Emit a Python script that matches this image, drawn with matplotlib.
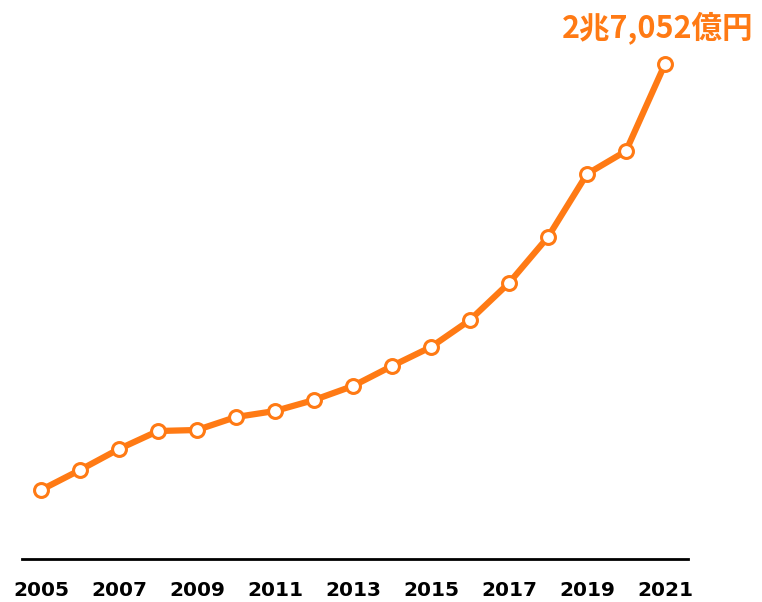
import matplotlib
matplotlib.use("Agg")
import matplotlib.pyplot as plt

years = [2005, 2006, 2007, 2008, 2009, 2010, 2011, 2012, 2013,
         2014, 2015, 2016, 2017, 2018, 2019, 2020, 2021]
# 億円 (last point labelled)
values = [3771, 4864, 6012, 6995, 7050, 7760, 8088, 8689, 9455,
          10548, 11586, 13061, 15084, 17597, 21040, 22297, 27052]
tick_years = [2005, 2007, 2009, 2011, 2013, 2015, 2017, 2019, 2021]
label_text = "2兆7,052億円"

orange = "#ff7a14"
W, H = 762, 602

fig = plt.figure(figsize=(W / 100, H / 100), dpi=100)
ax = fig.add_axes([22 / W, (H - 559) / H, (688 - 22) / W, 559 / H])

ax.plot(years, values, color=orange, linewidth=4.5, marker="o",
        markersize=10, markerfacecolor="white", markeredgecolor=orange,
        markeredgewidth=2.2, solid_capstyle="round", zorder=3)

px_per_val = 495 / 27052
ax.set_ylim(0, 559 / px_per_val)
ax.set_xlim(2005 - 19 / 39, 2021 + 23 / 39)

for s in ["top", "right", "left"]:
    ax.spines[s].set_visible(False)
ax.spines["bottom"].set_linewidth(2)
ax.set_yticks([])
ax.set_xticks(tick_years)
ax.set_xticklabels([str(y) for y in tick_years],
                   family="DejaVu Sans", fontweight="bold", fontsize=14.5)
ax.tick_params(axis="x", length=0, pad=16)

fig.text(753 / W, 1 - 29 / H, label_text, ha="right", va="center",
         color=orange, fontsize=22, fontweight="bold",
         family=["Noto Sans CJK JP", "DejaVu Sans"])

fig.savefig("out.png", dpi=100)
